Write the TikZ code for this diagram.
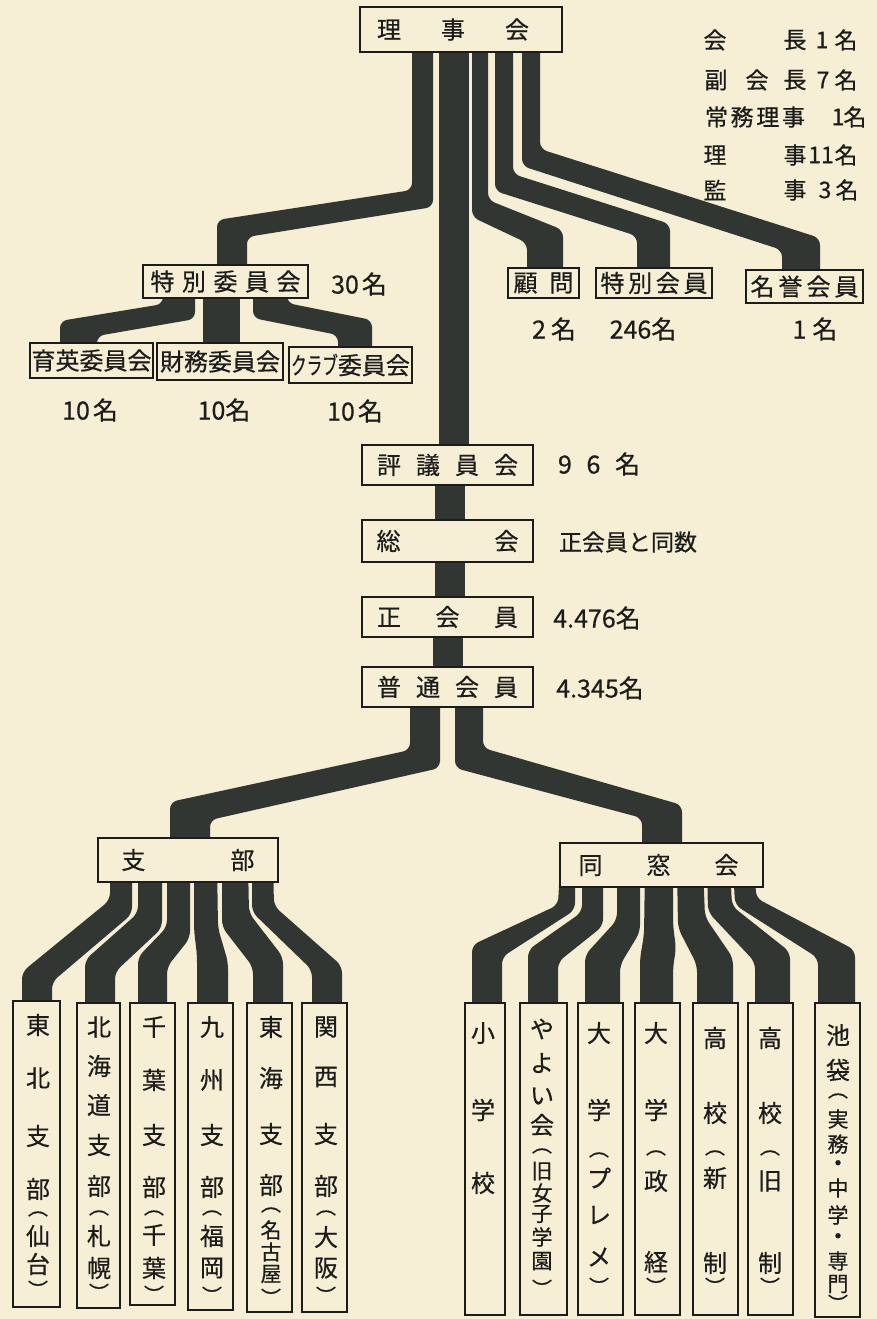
\documentclass[tikz,border=0pt]{standalone}
\usepackage{fontspec}
\usepackage{graphicx}
\setmainfont{Noto Sans CJK JP}[FakeBold=0.5]
\definecolor{paper}{RGB}{246,238,213}
\definecolor{ink}{RGB}{28,28,26}
\definecolor{bandc}{RGB}{50,54,50}
\pgfdeclarelayer{bg}
\pgfsetlayers{bg,main}
\newcommand\spr[2]{\makebox[#1][s]{#2}}
\newcommand\sm[1]{{\fontsize{21}{22}\selectfont #1}}
\newcommand\pl{{\fontsize{20}{22}\selectfont ︵}}
\newcommand\pr{{\fontsize{20}{22}\selectfont ︶}}
\tikzset{
  box/.style={draw=ink, line width=1.6pt, fill=paper, inner sep=0pt, text=ink, font=\fontsize{24}{26}\selectfont},
  vbox/.style={box, minimum width=45pt},
  lab/.style={inner sep=0pt, text=ink, font=\fontsize{25}{27}\selectfont},
  leg/.style={inner sep=0pt, text=ink, font=\fontsize{23}{25}\selectfont},
  vch/.style={inner sep=0pt, text=ink, font=\fontsize{24}{26}\selectfont},
  band/.style={fill=bandc, rounded corners=7pt},
}
\newcommand\vcol[3]{\foreach \yy/\cc [count=\ii] in {#3} {\node[vch] (#1-\ii) at (#2,\yy) {\cc};}}
\begin{document}
\begin{tikzpicture}[x=1pt,y=-1pt]
\useasboundingbox (0,0) rectangle (877,1319);

% ---------- boxes ----------
\node[box, minimum width=202pt, minimum height=45pt] (rijikai) at (461,29.5) {\hspace*{-16pt}\spr{152pt}{理\hfill 事\hfill 会}};
\node[box, minimum width=165pt, minimum height=33pt] (tokuiin) at (225.5,281.5) {\spr{150pt}{特\hfill 別\hfill 委\hfill 員\hfill 会}};
\node[box, minimum width=123pt, minimum height=35pt] (ikuei) at (91.5,360.5) {育英委員会};
\node[box, minimum width=126pt, minimum height=37pt] (zaimu) at (220,361.5) {財務委員会};
\node[box, minimum width=123pt, minimum height=36pt] (club) at (350.5,365) {\scalebox{0.65}[1]{クラブ}委員会};
\node[box, minimum width=71pt, minimum height=30pt] (komon) at (543.5,283) {\spr{60pt}{顧\hfill 問}};
\node[box, minimum width=116pt, minimum height=30pt] (tokukai) at (654,283) {\spr{107pt}{特\hfill 別\hfill 会\hfill 員}};
\node[box, minimum width=117pt, minimum height=33pt] (meiyo) at (804.5,286.5) {\spr{108pt}{名\hfill 誉\hfill 会\hfill 員}};
\node[box, minimum width=171pt, minimum height=40pt] (hyogi) at (447.5,465) {\spr{141pt}{評\hfill 議\hfill 員\hfill 会}};
\node[box, minimum width=171pt, minimum height=42pt] (sokai) at (447.5,541) {\spr{142pt}{総\hfill 会}};
\node[box, minimum width=171pt, minimum height=40pt] (seikai) at (447.5,617) {\spr{141pt}{正\hfill 会\hfill 員}};
\node[box, minimum width=171pt, minimum height=40pt] (futsu) at (447.5,687) {\spr{141pt}{普\hfill 通\hfill 会\hfill 員}};
\node[box, minimum width=180pt, minimum height=44pt] (shibu) at (188,860) {\spr{133pt}{支\hfill 部}};
\node[box, minimum width=203pt, minimum height=44pt] (dosokai) at (661.5,865) {\hspace*{-6pt}\spr{160pt}{同\hfill 窓\hfill 会}};

\node[vbox, minimum width=47pt, minimum height=306pt] (tohoku) at (36.5,1154) {};
\node[vbox, minimum width=43pt, minimum height=305pt] (hokkaido) at (98.5,1155.5) {};
\node[vbox, minimum height=302pt] (chiba) at (152.5,1154) {};
\node[vbox, minimum height=307pt] (kyushu) at (210.5,1156.5) {};
\node[vbox, minimum height=309pt] (tokai) at (269.5,1157.5) {};
\node[vbox, minimum height=309pt] (kansai) at (324.5,1157.5) {};
\node[vbox, minimum width=40pt, minimum height=312pt] (sho) at (485,1159) {};
\node[vbox, minimum width=47pt, minimum height=312pt] (yayoi) at (543.5,1159) {};
\node[vbox, minimum height=312pt] (pure) at (600.5,1159) {};
\node[vbox, minimum height=312pt] (seikei) at (657.5,1159) {};
\node[vbox, minimum height=312pt] (shinsei) at (715.5,1159) {};
\node[vbox, minimum height=312pt] (kyusei) at (770.5,1159) {};
\node[vbox, minimum height=314pt] (ikebukuro) at (837.5,1160) {};

% ---------- vertical texts ----------
\vcol{tohoku-t}{38}{1025/東,1078/北,1136/支,1189/部,1214/\pl,1236/仙,1264/台,1289/\pr}
\vcol{hokkaido-t}{99}{1027/北,1066/海,1105/道,1145/支,1186/部,1213/\pl,1236/札,1268/幌,1292/\pr}
\vcol{chiba-t}{154}{1027/千,1080/葉,1135/支,1187/部,1213/\pl,1235/千,1268/葉,1294/\pr}
\vcol{kyushu-t}{212}{1027/九,1080/州,1135/支,1187/部,1213/\pl,1236/福,1268/岡,1295/\pr}
\vcol{tokai-t}{271}{1027/東,1078/海,1134/支,1185/部,1210/\pl,1230/\sm{名},1252/\sm{古},1274/\sm{屋},1297/\pr}
\vcol{kansai-t}{326}{1027/関,1077/西,1134/支,1186/部,1213/\pl,1237/大,1268/阪,1295/\pr}
\vcol{sho-t}{483}{1033/小,1110/学,1183/校}
\vcol{yayoi-t}{542}{1029/や,1063/よ,1096/い,1125/会,1151/\pl,1171/\sm{旧},1193/\sm{女},1214/\sm{子},1237/\sm{学},1261/\sm{園},1288/\pr}
\vcol{pure-t}{599}{1033/大,1110/学,1155/\pl,1178/プ,1215/レ,1257/メ,1286/\pr}
\vcol{seikei-t}{656}{1033/大,1110/学,1153/\pl,1181/政,1262/経,1286/\pr}
\vcol{shinsei-t}{715}{1038/高,1113/校,1153/\pl,1178/新,1263/制,1286/\pr}
\vcol{kyusei-t}{770}{1038/高,1113/校,1153/\pl,1181/旧,1263/制,1286/\pr}
\vcol{ikebukuro-t}{838}{1035/池,1070/袋,1096/\pl,1119/\sm{実},1144/\sm{務},1166/・,1188/\sm{中},1215/\sm{学},1239/・,1261/\sm{専},1284/\sm{門},1303/\pr}

% ---------- counts ----------
\node[lab] (n-tokuiin) at (359,284) {30\hspace{3pt}名};
\node[lab] (n-ikuei) at (90,410) {10\hspace{3pt}名};
\node[lab] (n-zaimu) at (224,410) {10名};
\node[lab] (n-club) at (355,411) {10\hspace{3pt}名};
\node[lab] (n-komon) at (554,329) {2\hspace{5pt}名};
\node[lab] (n-tokukai) at (643,329) {246名};
\node[lab] (n-meiyo) at (815,329) {1\hspace{6pt}名};
\node[lab] (n-hyogi) at (599,464) {\spr{82pt}{9\hfill 6\hfill 名}};
\node[lab, font=\fontsize{23}{26}\selectfont] (n-sokai) at (628,542) {正会員と同数};
\node[lab] (n-seikai) at (597,618) {4.476名};
\node[lab] (n-futsu) at (600,688) {4.345名};

% ---------- legend ----------
\node[leg] (lg1a) at (715,40) {会};
\node[leg] (lg1b) at (795,40) {長};
\node[leg] (lg1c) at (822,40) {1};
\node[leg] (lg1d) at (846,40) {名};
\node[leg] (lg2a) at (716,80) {副};
\node[leg] (lg2b) at (757,80) {会};
\node[leg] (lg2c) at (795,80) {長};
\node[leg] (lg2d) at (823,80) {7};
\node[leg] (lg2e) at (846,80) {名};
\node[leg] (lg3a) at (755,117) {\spr{100pt}{常\hfill 務\hfill 理\hfill 事}};
\node[leg] (lg3b) at (838,117) {1};
\node[leg] (lg3c) at (855,117) {名};
\node[leg] (lg4a) at (715,155) {理};
\node[leg] (lg4b) at (795,155) {事};
\node[leg] (lg4c) at (821,155) {11};
\node[leg] (lg4d) at (846,155) {名};
\node[leg] (lg5a) at (715,190) {監};
\node[leg] (lg5b) at (795,190) {事};
\node[leg] (lg5c) at (825,190) {3};
\node[leg] (lg5d) at (847,190) {名};

% ---------- bands ----------
\begin{pgfonlayer}{bg}
\fill[paper] (0,0) rectangle (877,1319);
% trunk
\fill[bandc] (439,0 |- rijikai) rectangle (469,0 |- hyogi);
\fill[bandc] (435,0 |- hyogi) rectangle (465,0 |- sokai);
\fill[bandc] (435,0 |- sokai) rectangle (465,0 |- seikai);
\fill[bandc] (433,0 |- seikai) rectangle (463,0 |- futsu);
% from rijikai
\fill[band] (412,0 |- rijikai) -- (412,190) -- (217,220) -- (217,0 |- tokuiin) -- (247,0 |- tokuiin) -- (247,237) -- (433,207) -- (433,0 |- rijikai) -- cycle;
\fill[band] (472,0 |- rijikai) -- (472,217) -- (527,243) -- (527,0 |- komon) -- (563,0 |- komon) -- (563,230) -- (488,200) -- (488,0 |- rijikai) -- cycle;
\fill[band] (495,0 |- rijikai) -- (495,191) -- (637,236) -- (637,0 |- tokukai) -- (670,0 |- tokukai) -- (670,224) -- (513,174) -- (513,0 |- rijikai) -- cycle;
\fill[band] (522,0 |- rijikai) -- (522,166) -- (782,250) -- (782,0 |- meiyo) -- (820,0 |- meiyo) -- (820,238) -- (540,149) -- (540,0 |- rijikai) -- cycle;
% from tokuiin
\fill[band] (163,0 |- tokuiin) -- (163,304) -- (60,321) -- (60,0 |- ikuei) -- (97,0 |- ikuei) -- (97,336) -- (195,319) -- (195,0 |- tokuiin) -- cycle;
\fill[bandc] (203,0 |- tokuiin) rectangle (240,0 |- zaimu);
\fill[band] (253,0 |- tokuiin) -- (253,318) -- (338,335) -- (338,0 |- club) -- (372,0 |- club) -- (372,320) -- (287,303) -- (287,0 |- tokuiin) -- cycle;
% from futsu
\fill[band] (410,0 |- futsu) -- (410,750) -- (170,802) -- (170,0 |- shibu) -- (210,0 |- shibu) -- (210,820) -- (440,768) -- (440,0 |- futsu) -- cycle;
\fill[band] (455,0 |- futsu) -- (455,768) -- (642,818) -- (642,0 |- dosokai) -- (682,0 |- dosokai) -- (682,805) -- (483,748) -- (483,0 |- futsu) -- cycle;
% from shibu
\fill[band] (110,0 |- shibu) -- (110,900) -- (22,972) -- (22,0 |- tohoku) -- (52,0 |- tohoku) -- (52,982) -- (132,914) -- (132,0 |- shibu) -- cycle;
\fill[band] (138,0 |- shibu) -- (138,913) -- (85,960) -- (85,0 |- hokkaido) -- (115,0 |- hokkaido) -- (115,972) -- (162,928) -- (162,0 |- shibu) -- cycle;
\fill[band] (167,0 |- shibu) -- (167,927) -- (138,957) -- (138,0 |- chiba) -- (167,0 |- chiba) -- (167,967) -- (190,938) -- (190,0 |- shibu) -- cycle;
\fill[band] (194,0 |- shibu) -- (194,930) -- (197,955) -- (197,0 |- kyushu) -- (228,0 |- kyushu) -- (228,962) -- (218,928) -- (217,0 |- shibu) -- cycle;
\fill[band] (222,0 |- shibu) -- (222,927) -- (253,967) -- (253,0 |- tokai) -- (283,0 |- tokai) -- (283,957) -- (249,913) -- (248,0 |- shibu) -- cycle;
\fill[band] (252,0 |- shibu) -- (252,912) -- (312,970) -- (312,0 |- kansai) -- (342,0 |- kansai) -- (342,966) -- (274,906) -- (273,0 |- shibu) -- cycle;
% from dosokai
\fill[band] (560,0 |- dosokai) -- (558,905) -- (472,945) -- (472,0 |- sho) -- (502,0 |- sho) -- (502,957) -- (575,910) -- (575,0 |- dosokai) -- cycle;
\fill[band] (582,0 |- dosokai) -- (582,912) -- (528,950) -- (528,0 |- yayoi) -- (558,0 |- yayoi) -- (558,962) -- (603,926) -- (603,0 |- dosokai) -- cycle;
\fill[band] (617,0 |- dosokai) -- (617,920) -- (585,955) -- (585,0 |- pure) -- (620,0 |- pure) -- (620,965) -- (640,932) -- (640,0 |- dosokai) -- cycle;
\fill[band] (645,0 |- dosokai) -- (644,935) -- (640,958) -- (640,0 |- seikei) -- (673,0 |- seikei) -- (673,968) -- (676,948) -- (673,925) -- (673,0 |- dosokai) -- cycle;
\fill[band] (677,0 |- dosokai) -- (678,928) -- (697,965) -- (697,0 |- shinsei) -- (733,0 |- shinsei) -- (733,958) -- (705,917) -- (703,0 |- dosokai) -- cycle;
\fill[band] (707,0 |- dosokai) -- (708,912) -- (755,962) -- (755,0 |- kyusei) -- (790,0 |- kyusei) -- (790,952) -- (732,906) -- (730,0 |- dosokai) -- cycle;
\fill[band] (733,0 |- dosokai) -- (735,905) -- (818,958) -- (818,0 |- ikebukuro) -- (855,0 |- ikebukuro) -- (855,950) -- (756,898) -- (755,0 |- dosokai) -- cycle;
\end{pgfonlayer}
\end{tikzpicture}
\end{document}
